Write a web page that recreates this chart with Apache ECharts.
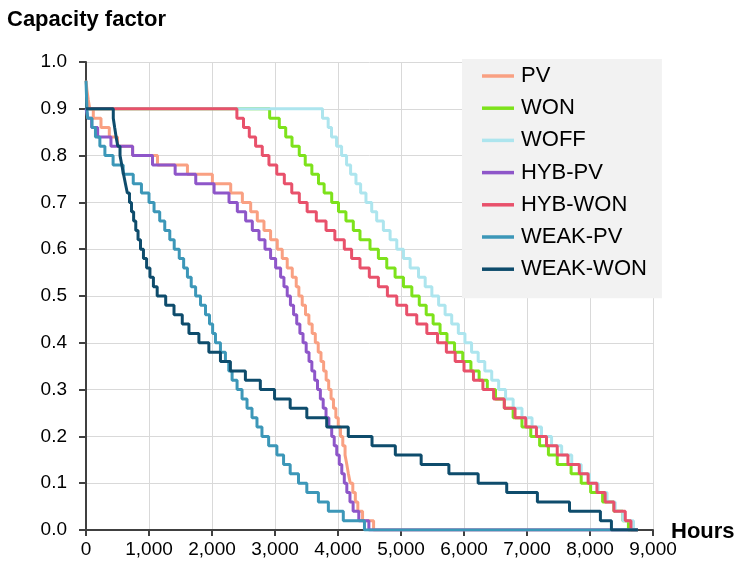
<!DOCTYPE html>
<html>
<head>
<meta charset="utf-8">
<script src="https://cdn.jsdelivr.net/npm/echarts@6/dist/echarts.min.js"></script>
<style>
  html, body { margin: 0; padding: 0; background: #ffffff; }
  #chart { width: 736px; height: 567px; }
</style>
</head>
<body>
<div id="chart"></div>
<script>
// Load-duration curves: each pair is [hour where the level starts, capacity factor]
const seriesNames = ['PV', 'WON', 'WOFF', 'HYB-PV', 'HYB-WON', 'WEAK-PV', 'WEAK-WON'];
const seriesColors = ['#F9A082', '#7DE21B', '#ADE5EE', '#8E56C9', '#E8516B', '#3C97B8', '#0E4C6C'];

const pv = [
  [0, 0.96], [15, 0.94], [35, 0.92], [60, 0.90], [116, 0.88], [238, 0.86], [370, 0.84],
  [500, 0.82], [740, 0.80], [1135, 0.78], [1610, 0.76], [2006, 0.74], [2297, 0.72],
  [2482, 0.70], [2614, 0.68], [2719, 0.66], [2825, 0.64], [2930, 0.62], [3036, 0.60],
  [3115, 0.58], [3194, 0.56], [3274, 0.54], [3337, 0.52], [3379, 0.50], [3432, 0.48],
  [3484, 0.46], [3538, 0.44], [3590, 0.42], [3640, 0.40], [3686, 0.38], [3730, 0.36],
  [3772, 0.34], [3812, 0.32], [3852, 0.30], [3890, 0.28], [3928, 0.26], [3966, 0.24],
  [4004, 0.22], [4040, 0.20], [4076, 0.18], [4112, 0.16], [4140, 0.14], [4165, 0.12],
  [4195, 0.10], [4235, 0.08], [4275, 0.06], [4315, 0.04], [4390, 0.02], [4565, 0.00],
  [8760, 0.00]
];

const won = [
  [0, 0.90], [2915, 0.88], [3068, 0.86], [3170, 0.84], [3270, 0.82], [3385, 0.80],
  [3480, 0.78], [3585, 0.76], [3690, 0.74], [3780, 0.72], [3900, 0.70], [4008, 0.68],
  [4126, 0.66], [4243, 0.64], [4349, 0.62], [4508, 0.60], [4641, 0.58], [4774, 0.56],
  [4906, 0.54], [5039, 0.52], [5172, 0.50], [5290, 0.48], [5400, 0.46], [5510, 0.44],
  [5620, 0.42], [5730, 0.40], [5850, 0.38], [5980, 0.36], [6110, 0.34], [6240, 0.32],
  [6370, 0.30], [6500, 0.28], [6640, 0.26], [6780, 0.24], [6920, 0.22], [7060, 0.20],
  [7200, 0.18], [7340, 0.16], [7480, 0.14], [7700, 0.12], [7860, 0.10], [8010, 0.08],
  [8200, 0.06], [8380, 0.04], [8520, 0.02], [8610, 0.00], [8760, 0.00]
];

const woff = [
  [0, 0.90], [3754, 0.88], [3844, 0.86], [3897, 0.84], [3977, 0.82], [4057, 0.80],
  [4136, 0.78], [4200, 0.76], [4285, 0.74], [4359, 0.72], [4444, 0.70], [4535, 0.68],
  [4614, 0.66], [4720, 0.64], [4827, 0.62], [4933, 0.60], [5039, 0.58], [5145, 0.56],
  [5278, 0.54], [5384, 0.52], [5490, 0.50], [5597, 0.48], [5700, 0.46], [5805, 0.44],
  [5910, 0.42], [6015, 0.40], [6120, 0.38], [6225, 0.36], [6330, 0.34], [6440, 0.32],
  [6550, 0.30], [6660, 0.28], [6780, 0.26], [6920, 0.24], [7080, 0.22], [7230, 0.20],
  [7390, 0.18], [7550, 0.16], [7710, 0.14], [7860, 0.12], [7990, 0.10], [8130, 0.08],
  [8270, 0.06], [8400, 0.04], [8520, 0.02], [8690, 0.00], [8760, 0.00]
];

const hybPv = [
  [0, 0.90], [30, 0.88], [90, 0.86], [185, 0.84], [396, 0.82], [740, 0.80], [1056, 0.78],
  [1415, 0.76], [1742, 0.74], [2033, 0.72], [2270, 0.70], [2402, 0.68], [2534, 0.66],
  [2640, 0.64], [2746, 0.62], [2841, 0.60], [2930, 0.58], [3010, 0.56], [3089, 0.54],
  [3142, 0.52], [3194, 0.50], [3245, 0.48], [3295, 0.46], [3345, 0.44], [3395, 0.42],
  [3445, 0.40], [3495, 0.38], [3540, 0.36], [3585, 0.34], [3630, 0.32], [3675, 0.30],
  [3720, 0.28], [3765, 0.26], [3810, 0.24], [3855, 0.22], [3900, 0.20], [3940, 0.18],
  [3980, 0.16], [4020, 0.14], [4060, 0.12], [4100, 0.10], [4140, 0.08], [4190, 0.06],
  [4240, 0.04], [4330, 0.02], [4490, 0.00], [8760, 0.00]
];

const hybWon = [
  [0, 0.90], [2395, 0.88], [2500, 0.86], [2592, 0.84], [2692, 0.82], [2798, 0.80],
  [2904, 0.78], [3028, 0.76], [3148, 0.74], [3266, 0.72], [3386, 0.70], [3510, 0.68],
  [3656, 0.66], [3810, 0.64], [3950, 0.62], [4100, 0.60], [4216, 0.58], [4349, 0.56],
  [4497, 0.54], [4641, 0.52], [4784, 0.50], [4933, 0.48], [5090, 0.46], [5250, 0.44],
  [5410, 0.42], [5580, 0.40], [5720, 0.38], [5860, 0.36], [6000, 0.34], [6150, 0.32],
  [6300, 0.30], [6470, 0.28], [6640, 0.26], [6810, 0.24], [6980, 0.22], [7150, 0.20],
  [7310, 0.18], [7480, 0.16], [7650, 0.14], [7830, 0.12], [7970, 0.10], [8110, 0.08],
  [8240, 0.06], [8380, 0.04], [8560, 0.02], [8650, 0.00], [8760, 0.00]
];

const weakPv = [
  [0, 0.96], [5, 0.94], [10, 0.92], [15, 0.90], [25, 0.88], [95, 0.86], [150, 0.84],
  [220, 0.82], [300, 0.80], [430, 0.78], [590, 0.76], [750, 0.74], [880, 0.72],
  [1000, 0.70], [1080, 0.68], [1170, 0.66], [1250, 0.64], [1330, 0.62], [1400, 0.60],
  [1480, 0.58], [1550, 0.56], [1610, 0.54], [1670, 0.52], [1740, 0.50], [1818, 0.48],
  [1897, 0.46], [1960, 0.44], [2010, 0.42], [2055, 0.40], [2134, 0.38], [2213, 0.36],
  [2266, 0.34], [2319, 0.32], [2398, 0.30], [2477, 0.28], [2556, 0.26], [2635, 0.24],
  [2714, 0.22], [2793, 0.20], [2899, 0.18], [3030, 0.16], [3136, 0.14], [3241, 0.12],
  [3373, 0.10], [3505, 0.08], [3689, 0.06], [3847, 0.04], [4084, 0.02], [4420, 0.00],
  [8760, 0.00]
];

const weakWon = [
  [0, 0.90], [433, 0.88], [455, 0.86], [478, 0.84], [505, 0.82], [540, 0.80], [568, 0.78],
  [596, 0.76], [626, 0.74], [656, 0.72], [690, 0.70], [722, 0.68], [756, 0.66],
  [790, 0.64], [826, 0.62], [865, 0.60], [912, 0.58], [962, 0.56], [1015, 0.54],
  [1070, 0.52], [1130, 0.50], [1265, 0.48], [1397, 0.46], [1528, 0.44], [1634, 0.42],
  [1792, 0.40], [1950, 0.38], [2134, 0.36], [2292, 0.34], [2530, 0.32], [2767, 0.30],
  [2993, 0.28], [3241, 0.26], [3505, 0.24], [3821, 0.22], [4163, 0.20], [4540, 0.18],
  [4910, 0.16], [5320, 0.14], [5760, 0.12], [6225, 0.10], [6678, 0.08], [7165, 0.06],
  [7675, 0.04], [8165, 0.02], [8340, 0.00], [8760, 0.00]
];

const seriesData = [pv, won, woff, hybPv, hybWon, weakPv, weakWon];

const xTicks = { min: 0, max: 9000, interval: 1000 };
const yTicks = { min: 0, max: 1, interval: 0.1 };

const chart = echarts.init(document.getElementById('chart'), null, { renderer: 'canvas' });

const font = '"Liberation Sans", Arial, sans-serif';

chart.setOption({
  animation: false,
  backgroundColor: '#ffffff',
  title: [
    { text: 'Capacity factor', left: 7, top: 9, padding: 0,
      textStyle: { fontFamily: font, fontSize: 22, fontWeight: 'bold', color: '#000' } },
    { text: 'Hours', left: 671, top: 521, padding: 0,
      textStyle: { fontFamily: font, fontSize: 22, fontWeight: 'bold', color: '#000' } }
  ],
  grid: { left: 86, right: 83, top: 62, bottom: 37, containLabel: false },
  legend: {
    orient: 'vertical',
    left: 462,
    top: 59,
    padding: [6, 15, 18, 20],
    backgroundColor: '#f2f2f2',
    itemWidth: 32,
    itemHeight: 14,
    itemGap: 10.2,
    textStyle: { fontFamily: font, fontSize: 22, color: '#000', padding: [0, 0, 0, 2] },
    data: seriesNames.map(n => ({ name: n, icon: 'path://M0,5.5 L32,5.5 L32,9 L0,9 Z' }))
  },
  xAxis: {
    type: 'value',
    min: xTicks.min, max: xTicks.max, interval: xTicks.interval,
    axisLine: { show: true, lineStyle: { color: '#404040', width: 2 } },
    axisTick: { show: true, length: 6, lineStyle: { color: '#404040', width: 2 } },
    axisLabel: {
      fontFamily: font, fontSize: 19, color: '#000', margin: 10,
      formatter: v => v.toLocaleString('en-US')
    },
    splitLine: { show: true, lineStyle: { color: '#d9d9d9', width: 1 } }
  },
  yAxis: {
    type: 'value',
    min: yTicks.min, max: yTicks.max, interval: yTicks.interval,
    axisLine: { show: true, lineStyle: { color: '#404040', width: 2 } },
    axisTick: { show: true, length: 7, lineStyle: { color: '#404040', width: 2 } },
    axisLabel: {
      fontFamily: font, fontSize: 19, color: '#000', margin: 19,
      formatter: v => v.toFixed(1)
    },
    splitLine: { show: true, lineStyle: { color: '#d9d9d9', width: 1 } }
  },
  series: seriesNames.map((name, i) => ({
    name: name,
    type: 'line',
    step: 'end',
    showSymbol: false,
    symbol: 'none',
    color: seriesColors[i],
    lineStyle: { color: seriesColors[i], width: 3 },
    data: seriesData[i],
    z: 2 + i
  }))
});
</script>
</body>
</html>
